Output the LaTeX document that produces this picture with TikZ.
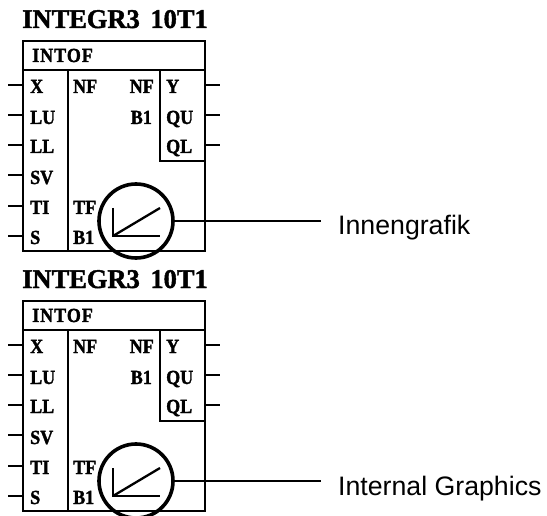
\documentclass[tikz,border=0pt]{standalone}
\usepackage{fontspec}
\setmainfont{Liberation Serif}
\newfontfamily\lblfont{Liberation Sans}
\newfontfamily\ttlfont[FakeBold=1.6,WordSpace=1.6,FakeStretch=0.98]{Liberation Serif}
\newfontfamily\pinfont[FakeBold=1.6,FakeStretch=0.9]{Liberation Serif}
\newfontfamily\hdrfont[FakeBold=1.6,FakeStretch=0.9,LetterSpace=5]{Liberation Serif}
\tikzset{
  boxline/.style={draw=black,line width=2.3pt},
  wire/.style={draw=black,line width=2.3pt},
  thinwire/.style={draw=black,line width=1.9pt},
  ring/.style={draw=black,line width=3.6pt,circle,minimum size=74pt,inner sep=0pt,fill=none},
  pinl/.style={anchor=base west,inner sep=0pt,font=\pinfont\fontsize{20}{20}\selectfont\bfseries},
  pinr/.style={anchor=base east,inner sep=0pt,font=\pinfont\fontsize{20}{20}\selectfont\bfseries},
  hdr/.style={anchor=base west,inner sep=0pt,font=\hdrfont\fontsize{20}{20}\selectfont\bfseries},
  ttl/.style={anchor=base west,inner sep=0pt,font=\ttlfont\fontsize{27}{27}\selectfont\bfseries},
  lbl/.style={anchor=base west,inner sep=0pt,font=\lblfont\fontsize{26.7}{27}\selectfont},
}
\newcommand{\fbdblock}[3]{%
 % #1 prefix, #2 y offset, #3 label
 \begin{scope}[shift={(0,#2)}]
  \node[ttl] (#1title) at (22,28) {INTEGR3 10T1};
  \coordinate (#1tl) at (23,41); \coordinate (#1br) at (205,251);
  \coordinate (#1hl) at (23,70); \coordinate (#1hr) at (205,70);
  \coordinate (#1d1) at (68,70); \coordinate (#1d2) at (68,251);
  \coordinate (#1q1) at (160,70); \coordinate (#1q2) at (160,161); \coordinate (#1q3) at (205,161);
  \path[boxline] (#1tl) rectangle (#1br);
  \path[boxline] (#1hl) -- (#1hr);
  \path[boxline] (#1d1) -- (#1d2);
  \path[boxline] (#1q1) -- (#1q2) -- (#1q3);
  \node[hdr] (#1intof) at (32,62) {INTOF};
  \foreach \nm/\ty/\py/\tx in {X/93/85/30,LU/124/115/30,LL/153/145/30,SV/184/175/30,TI/214/206/30,S/244/236/30}{
    \node[pinl] (#1in\nm) at (\tx,\ty) {\nm};
    \coordinate (#1a\nm) at (8,\py); \coordinate (#1b\nm) at (23,\py);
    \path[wire] (#1a\nm) -- (#1b\nm);
  }
  \foreach \nm/\ty/\py in {Y/93/85,QU/124/115,QL/153/145}{
    \node[pinl] (#1out\nm) at (166,\ty) {\nm};
    \coordinate (#1c\nm) at (205,\py); \coordinate (#1e\nm) at (220,\py);
    \path[wire] (#1c\nm) -- (#1e\nm);
  }
  \node[pinl] (#1nfa) at (73,93) {NF};
  \node[pinr] (#1nfb) at (154,93) {NF};
  \node[pinr] (#1bb) at (152,124) {B1};
  \node[pinl] (#1tf) at (73,214) {TF};
  \node[pinl] (#1ba) at (73,244) {B1};
  \node[ring] (#1ring) at (136,221) {};
  \coordinate (#1g1) at (113,208); \coordinate (#1g2) at (113,236);
  \coordinate (#1g3) at (160,236); \coordinate (#1g4) at (160,208);
  \path[wire] (#1g1) -- (#1g2) -- (#1g3);
  \path[wire] (#1g2) -- (#1g4);
  \coordinate (#1end) at (321,221);
  \path[thinwire] (#1ring.east) -- (#1end);
  \node[lbl] (#1lbl) at (338,235) {#3};
 \end{scope}}
\begin{document}
\begin{tikzpicture}[x=1pt,y=-1pt]
 \useasboundingbox (0,0) rectangle (547,516);
 \clip (0,0) rectangle (547,516);
 \fbdblock{p}{0}{Innengrafik}
 \fbdblock{q}{260}{Internal Graphics}
\end{tikzpicture}
\end{document}
